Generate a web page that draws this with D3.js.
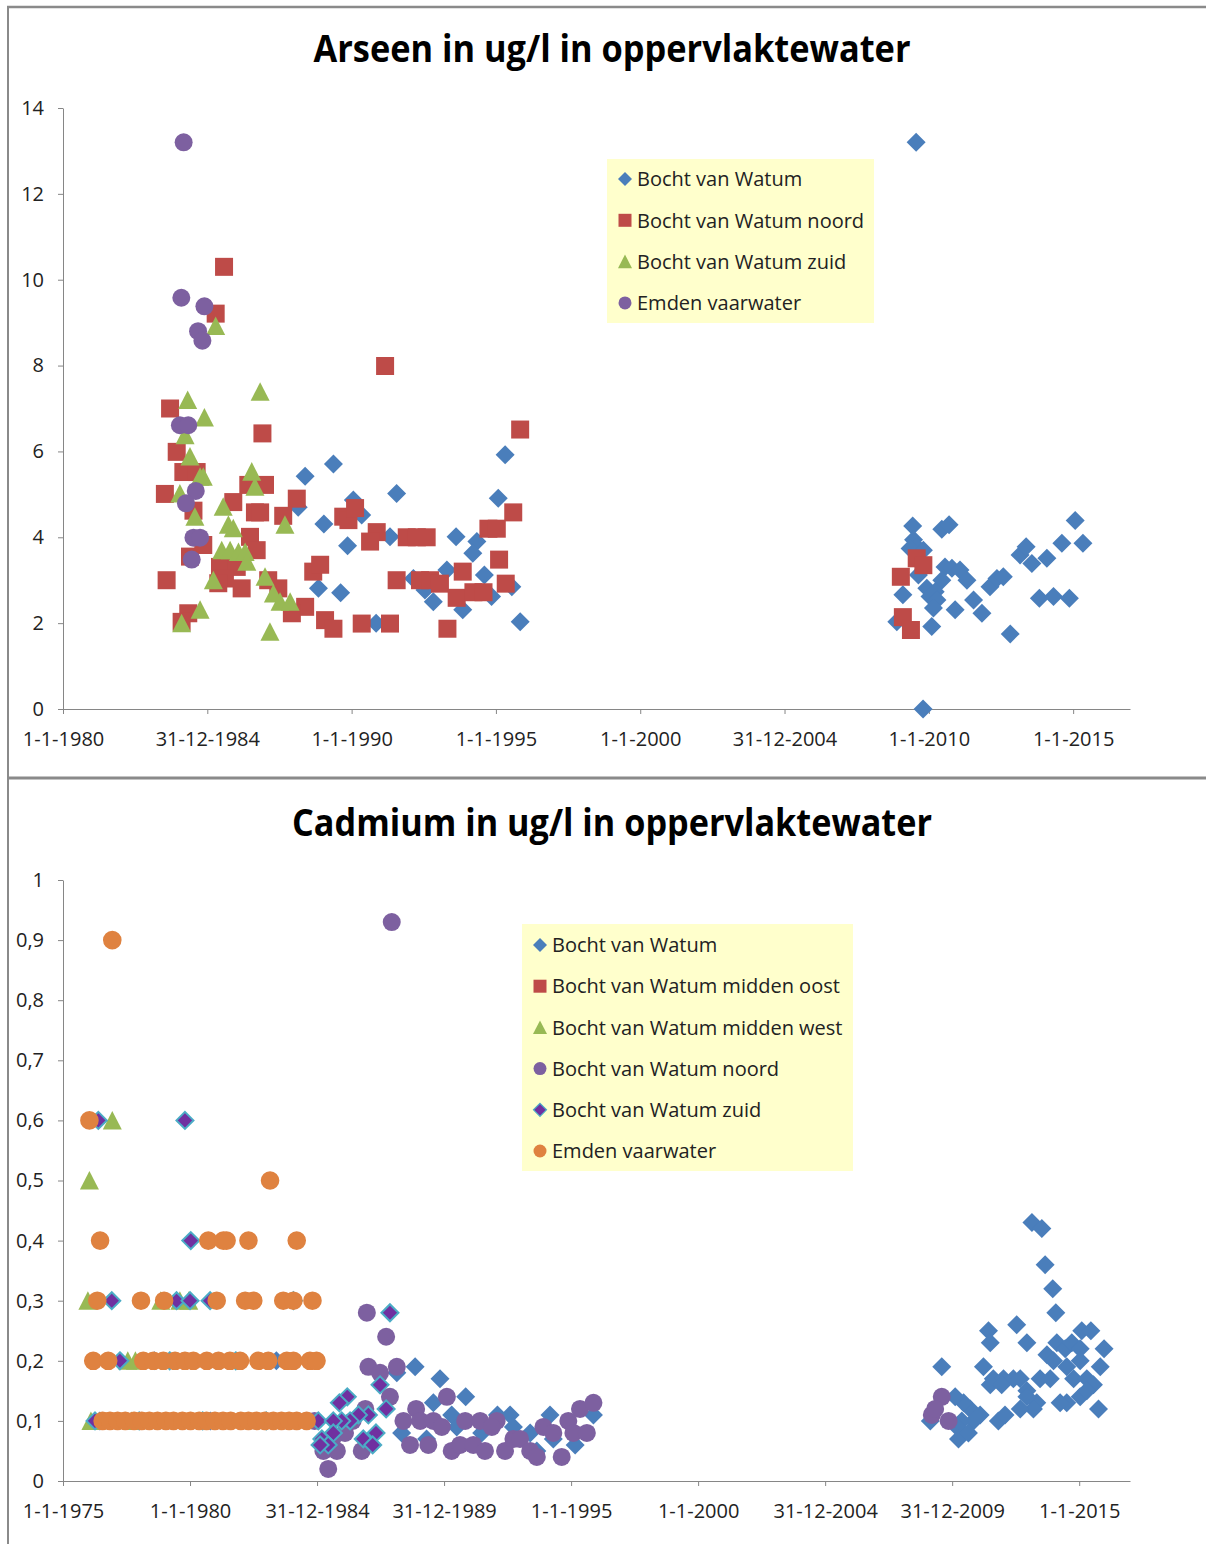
<!DOCTYPE html>
<html>
<head>
<meta charset="utf-8">
<script src="https://cdn.jsdelivr.net/npm/d3@7"></script>
<style>
  body { margin: 0; background: #fff; }
  text { font-family: "Open Sans", "Noto Sans", sans-serif; fill: #222; }
</style>
</head>
<body>
<svg id="chart" width="1206" height="1544"></svg>
<script>
// ---------- Arseen (ug/l): [decimal year, value] ----------
const arsWatum = [
  [1988.39,5.42],[1989.37,5.71],[1991.56,5.02],[1995.32,5.92],[1995.08,4.91],[1990.06,4.87],[1990.35,4.52],
  [1988.15,4.70],[1989.04,4.31],[1991.33,4.01],[1993.62,4.01],[1994.34,3.90],[1994.20,3.63],[1989.86,3.80],
  [1993.30,3.24],[1994.60,3.12],[1988.85,2.81],[1989.62,2.71],[1995.55,2.85],[1994.85,2.62],[1992.83,2.50],
  [1993.85,2.31],[1990.85,2.00],[1995.84,2.03],[1992.14,3.04],[1992.54,2.77],
  [2009.56,13.2],[2009.80,0.00],[2009.44,4.26],[2010.45,4.19],[2010.70,4.29],[2009.47,3.94],[2009.58,3.78],
  [2009.35,3.74],[2009.81,3.70],[2010.56,3.31],[2010.80,3.28],[2011.08,3.24],[2011.32,3.00],[2010.45,3.00],
  [2009.93,2.81],[2010.22,2.73],[2010.04,2.62],[2010.28,2.54],[2009.64,3.12],[2009.10,2.66],[2010.16,2.35],
  [2010.91,2.31],[2010.10,1.92],[2008.89,2.03],[2011.55,2.54],[2011.84,2.23],[2012.12,2.85],[2012.36,3.04],
  [2012.58,3.08],[2013.16,3.59],[2013.37,3.78],[2013.57,3.39],[2014.09,3.51],[2014.61,3.86],[2015.07,4.39],
  [2015.34,3.86],[2013.83,2.58],[2014.32,2.62],[2014.87,2.58],[2012.82,1.75]
];
const arsWatumNoord = [
  [1985.58,10.30],[1985.29,9.21],[1991.16,7.99],[1983.71,7.00],[1986.91,6.42],[1995.84,6.51],[1983.94,5.99],
  [1984.17,5.52],[1984.63,5.52],[1983.53,5.01],[1986.42,5.22],[1987.00,5.22],[1988.10,4.90],[1985.90,4.82],
  [1986.65,4.58],[1986.83,4.58],[1987.63,4.50],[1984.52,4.62],[1989.71,4.48],[1989.89,4.40],[1990.12,4.68],
  [1995.60,4.58],[1994.74,4.20],[1995.03,4.20],[1990.87,4.12],[1990.64,3.90],[1991.91,4.00],[1992.26,4.00],
  [1992.60,4.00],[1986.48,4.01],[1986.71,3.70],[1984.86,3.82],[1984.40,3.55],[1985.44,3.31],[1986.02,3.31],
  [1985.61,3.04],[1985.38,2.93],[1983.59,3.00],[1986.19,2.81],[1987.11,3.00],[1987.46,2.81],[1988.39,2.38],
  [1987.93,2.23],[1984.34,2.23],[1984.11,2.03],[1988.67,3.20],[1988.91,3.36],[1989.08,2.07],[1989.37,1.87],
  [1990.35,1.99],[1991.33,1.99],[1991.56,3.00],[1992.37,3.00],[1992.72,3.00],[1993.06,2.92],[1993.85,3.20],
  [1993.64,2.59],[1994.22,2.72],[1994.57,2.72],[1995.11,3.48],[1995.34,2.92],[1993.32,1.87],
  [2009.58,3.51],[2009.81,3.35],[2009.03,3.08],[2009.10,2.14],[2009.38,1.84]
];
const arsWatumZuid = [
  [1986.83,7.39],[1984.32,7.20],[1984.90,6.79],[1984.23,6.38],[1984.40,5.88],[1984.75,5.41],[1984.86,5.41],
  [1984.05,5.02],[1986.54,5.53],[1986.65,5.18],[1985.55,4.71],[1984.57,4.48],[1987.69,4.29],[1985.73,4.29],
  [1985.90,4.21],[1985.50,3.70],[1985.79,3.70],[1986.08,3.66],[1986.31,3.66],[1986.37,3.43],[1985.21,3.00],
  [1987.00,3.08],[1987.29,2.69],[1987.52,2.50],[1987.87,2.50],[1984.75,2.31],[1984.11,2.00],[1987.17,1.80],
  [1985.29,8.92]
];
const arsEmden = [
  [1984.18,13.20],[1984.10,9.58],[1984.90,9.38],[1984.68,8.80],[1984.83,8.58],[1984.05,6.61],[1984.34,6.61],
  [1984.60,5.08],[1984.26,4.79],[1984.52,3.99],[1984.75,3.99],[1984.46,3.48]
];
const arsXTicks = [1980, 1985, 1990, 1995, 2000, 2005, 2010, 2015];
const arsXLabels = ['1-1-1980','31-12-1984','1-1-1990','1-1-1995','1-1-2000','31-12-2004','1-1-2010','1-1-2015'];
const arsYTicks = [0, 2, 4, 6, 8, 10, 12, 14];

// ---------- Cadmium (ug/l): [decimal year, value] ----------
const cdWatum = [
  [1976.45,0.1],[1978.60,0.2],[1980.80,0.1],[1983.40,0.2],
  [1988.86,0.19],[1989.84,0.17],[1990.85,0.14],[1988.14,0.18],[1989.58,0.13],[1990.30,0.11],[1992.10,0.11],
  [1992.60,0.11],[1994.17,0.11],[1995.88,0.11],[1992.73,0.09],[1993.39,0.08],[1988.33,0.08],[1989.31,0.07],
  [1990.50,0.09],[1991.48,0.08],[1995.16,0.06],[1993.65,0.05],[1994.30,0.07],
  [2013.14,0.43],[2013.53,0.42],[2013.66,0.36],[2013.96,0.32],[2014.08,0.28],[2009.59,0.19],[2011.43,0.25],
  [2011.50,0.23],[2012.54,0.26],[2012.94,0.23],[2015.10,0.25],[2015.46,0.25],[2015.98,0.22],[2013.73,0.21],
  [2014.12,0.23],[2014.45,0.22],[2014.71,0.23],[2015.04,0.22],[2013.99,0.20],[2014.51,0.19],[2015.04,0.20],
  [2015.83,0.19],[2011.23,0.19],[2011.62,0.17],[2012.02,0.17],[2012.41,0.17],[2012.68,0.17],[2011.50,0.16],
  [2011.95,0.16],[2013.46,0.17],[2013.86,0.17],[2012.94,0.15],[2013.33,0.13],[2013.20,0.12],[2014.78,0.17],
  [2015.30,0.17],[2015.56,0.16],[2014.51,0.13],[2015.04,0.14],[2015.30,0.15],[2014.25,0.13],[2015.76,0.12],
  [2010.71,0.12],[2011.10,0.11],[2010.45,0.13],[2010.84,0.10],[2010.38,0.10],[2010.19,0.09],[2010.25,0.07],
  [2010.64,0.08],[2011.82,0.10],[2012.08,0.11],[2010.12,0.14],[2009.14,0.10],[2012.94,0.14],[2012.68,0.12]
];
const cdMiddenOost = [];
const cdMiddenWest = [
  [1976.04,0.50],[1976.94,0.60],[1975.98,0.30],[1978.85,0.30],[1979.60,0.30],[1979.95,0.30],
  [1977.55,0.20],[1977.85,0.20],[1976.10,0.10],[1977.70,0.10]
];
const cdNoord = [
  [1987.94,0.93],[1986.96,0.28],[1987.72,0.24],[1987.02,0.19],[1987.48,0.18],[1988.14,0.19],[1987.87,0.14],
  [1990.11,0.14],[1988.90,0.12],[1988.40,0.10],[1989.06,0.10],[1989.58,0.10],[1989.91,0.09],[1990.83,0.10],
  [1991.42,0.10],[1992.07,0.10],[1991.88,0.09],[1988.66,0.06],[1989.38,0.06],[1990.30,0.05],[1990.63,0.06],
  [1991.15,0.06],[1991.61,0.05],[1992.40,0.05],[1992.73,0.07],[1992.99,0.07],[1993.39,0.05],[1993.65,0.04],
  [1993.91,0.09],[1994.30,0.08],[1994.63,0.04],[1994.89,0.10],[1995.09,0.08],[1995.62,0.08],[1995.35,0.12],
  [1995.88,0.13],[1985.44,0.02],[1985.25,0.05],[1985.78,0.05],[1986.76,0.05],[1986.10,0.08],[1986.40,0.10],
  [1986.90,0.12],[1985.60,0.07],[1984.90,0.10],
  [2009.59,0.14],[2009.20,0.11],[2009.86,0.10],[2009.33,0.12]
];
const cdZuid = [
  [1976.39,0.60],[1979.80,0.60],[1980.03,0.40],[1976.92,0.30],[1979.47,0.30],[1980.00,0.30],[1980.79,0.30],
  [1984.07,0.30],[1977.24,0.20],[1976.26,0.10],[1985.05,0.10],[1979.20,0.20],[1981.80,0.20],[1978.00,0.10],
  [1980.50,0.10],[1983.00,0.10],
  [1987.87,0.28],[1987.48,0.16],[1987.72,0.12],[1986.19,0.14],[1985.88,0.13],[1987.02,0.11],[1986.63,0.11],
  [1986.30,0.10],[1985.97,0.10],[1985.64,0.10],[1987.32,0.08],[1986.82,0.07],[1987.19,0.06],[1985.64,0.08],
  [1985.19,0.07],[1985.44,0.06],[1985.12,0.06]
];
const cdEmden = [
  [1976.94,0.9],[1976.04,0.6],[1983.15,0.5],
  [1976.46,0.4],[1980.72,0.4],[1981.31,0.4],[1981.44,0.4],[1982.30,0.4],[1984.20,0.4],
  [1976.35,0.3],[1978.07,0.3],[1978.98,0.3],[1981.05,0.3],[1982.17,0.3],[1982.49,0.3],[1983.67,0.3],
  [1984.07,0.3],[1984.82,0.3],
  [1976.19,0.2],[1976.78,0.2],[1978.16,0.2],[1978.56,0.2],[1978.95,0.2],[1979.41,0.2],[1979.80,0.2],
  [1980.13,0.2],[1980.66,0.2],[1981.12,0.2],[1981.57,0.2],[1981.97,0.2],[1982.69,0.2],[1983.08,0.2],
  [1983.81,0.2],[1984.07,0.2],[1984.72,0.2],[1984.98,0.2],
  [1976.56,0.1],[1976.85,0.1],[1977.15,0.1],[1977.45,0.1],[1977.80,0.1],[1978.10,0.1],[1978.40,0.1],
  [1978.72,0.1],[1979.05,0.1],[1979.35,0.1],[1979.70,0.1],[1980.02,0.1],[1980.36,0.1],[1980.65,0.1],
  [1980.98,0.1],[1981.30,0.1],[1981.60,0.1],[1982.00,0.1],[1982.30,0.1],[1982.62,0.1],[1982.95,0.1],
  [1983.28,0.1],[1983.60,0.1],[1983.90,0.1],[1984.20,0.1],[1984.59,0.1]
];
const cdXTicks = [1975, 1980, 1985, 1990, 1995, 2000, 2005, 2010, 2015];
const cdXLabels = ['1-1-1975','1-1-1980','31-12-1984','31-12-1989','1-1-1995','1-1-2000','31-12-2004','31-12-2009','1-1-2015'];
const cdYTicks = [0, 0.1, 0.2, 0.3, 0.4, 0.5, 0.6, 0.7, 0.8, 0.9, 1];

// ---------- drawing ----------
const svg = d3.select('#chart');
const axisColor = '#868686';

function marker(type, s) {
  if (type === 'diamond') return `M0,${-s}L${s},0L0,${s}L${-s},0Z`;
  if (type === 'square') return `M${-s},${-s}h${2 * s}v${2 * s}h${-2 * s}Z`;
  if (type === 'triangle') return `M0,${-s}L${s},${s * 0.95}L${-s},${s * 0.95}Z`;
  return `M${-s},0a${s},${s} 0 1,0 ${2 * s},0a${s},${s} 0 1,0 ${-2 * s},0Z`;
}

function drawChart(o) {
  const g = svg.append('g');
  const x = d3.scaleLinear().domain(o.xDomain).range([63, 1130]);
  const y = d3.scaleLinear().domain(o.yDomain).range([o.yBottom, o.yTop]);

  g.append('text')
    .attr('x', 612).attr('y', o.titleY)
    .attr('text-anchor', 'middle')
    .attr('font-size', 37).attr('font-weight', 'bold')
    .attr('textLength', o.titleW).attr('lengthAdjust', 'spacingAndGlyphs')
    .style('fill', '#000')
    .text(o.title);

  const yAxis = g.append('g').attr('transform', 'translate(63,0)')
    .call(d3.axisLeft(y).tickValues(o.yTicks).tickSize(5).tickSizeOuter(0).tickPadding(14).tickFormat(o.yFormat));
  const xAxis = g.append('g').attr('transform', `translate(0,${o.yBottom})`)
    .call(d3.axisBottom(x).tickValues(o.xTicks).tickSize(5).tickSizeOuter(0).tickPadding(18)
      .tickFormat((d, i) => o.xLabels[i]));
  [yAxis, xAxis].forEach(a => {
    a.attr('font-family', null).attr('font-size', null);
    a.select('.domain').attr('stroke', axisColor);
    a.selectAll('.tick line').attr('stroke', axisColor);
    a.selectAll('.tick text').attr('font-size', 20).style('fill', '#222');
  });

  o.series.forEach(s => {
    g.append('g').selectAll('path')
      .data(s.data)
      .join('path')
      .attr('d', marker(s.type, s.size))
      .attr('transform', d => `translate(${x(d[0])},${y(d[1])})`)
      .attr('fill', s.fill)
      .attr('stroke', s.stroke || 'none')
      .attr('stroke-width', s.stroke ? 2 : 0);
  });

  const L = o.legend;
  const lg = g.append('g');
  lg.append('rect').attr('x', L.x).attr('y', L.y).attr('width', L.w).attr('height', L.h).attr('fill', '#FFFFCC');
  o.series.forEach((s, i) => {
    const cy = L.firstRow + i * L.step;
    lg.append('path')
      .attr('d', marker(s.type, s.legendSize))
      .attr('transform', `translate(${L.markerX},${cy})`)
      .attr('fill', s.fill)
      .attr('stroke', s.stroke || 'none')
      .attr('stroke-width', s.stroke ? 1.2 : 0);
    lg.append('text')
      .attr('x', L.textX).attr('y', cy).attr('dy', '0.36em')
      .attr('font-size', 20)
      .text(s.name);
  });
}

// frame lines
svg.append('line').attr('x1', 7).attr('x2', 1206).attr('y1', 7).attr('y2', 7).attr('stroke', '#8a8a8a').attr('stroke-width', 2.5);
svg.append('line').attr('x1', 8).attr('x2', 8).attr('y1', 6).attr('y2', 1544).attr('stroke', '#8a8a8a').attr('stroke-width', 2);
svg.append('line').attr('x1', 7).attr('x2', 1206).attr('y1', 778).attr('y2', 778).attr('stroke', '#8a8a8a').attr('stroke-width', 3);

const blue = '#4A7EBB', red = '#BE4B48', green = '#98B954', purple = '#7D60A0', orange = '#DF8240';

drawChart({
  title: 'Arseen in ug/l in oppervlaktewater', titleY: 62, titleW: 597,
  xDomain: [1980, 2016.97], yDomain: [0, 14], yBottom: 709, yTop: 108,
  xTicks: arsXTicks, xLabels: arsXLabels, yTicks: arsYTicks, yFormat: d => d,
  series: [
    { name: 'Bocht van Watum', data: arsWatum, type: 'diamond', size: 9.5, legendSize: 7, fill: blue },
    { name: 'Bocht van Watum noord', data: arsWatumNoord, type: 'square', size: 9, legendSize: 6.5, fill: red },
    { name: 'Bocht van Watum zuid', data: arsWatumZuid, type: 'triangle', size: 9.5, legendSize: 7, fill: green },
    { name: 'Emden vaarwater', data: arsEmden, type: 'circle', size: 9, legendSize: 6.5, fill: purple }
  ],
  legend: { x: 607, y: 159, w: 267, h: 164, firstRow: 179, step: 41.3, markerX: 625, textX: 637 }
});

drawChart({
  title: 'Cadmium in ug/l in oppervlaktewater', titleY: 836, titleW: 640,
  xDomain: [1975, 2017.0], yDomain: [0, 1], yBottom: 1481, yTop: 880,
  xTicks: cdXTicks, xLabels: cdXLabels, yTicks: cdYTicks,
  yFormat: d => String(+d.toFixed(1)).replace('.', ','),
  series: [
    { name: 'Bocht van Watum', data: cdWatum, type: 'diamond', size: 9.5, legendSize: 7, fill: blue },
    { name: 'Bocht van Watum midden oost', data: cdMiddenOost, type: 'square', size: 9, legendSize: 6.5, fill: red },
    { name: 'Bocht van Watum midden west', data: cdMiddenWest, type: 'triangle', size: 9.5, legendSize: 7, fill: green },
    { name: 'Bocht van Watum noord', data: cdNoord, type: 'circle', size: 9, legendSize: 6.5, fill: purple },
    { name: 'Bocht van Watum zuid', data: cdZuid, type: 'diamond', size: 8.5, legendSize: 6.5, fill: '#7030A0', stroke: '#4BACC6' },
    { name: 'Emden vaarwater', data: cdEmden, type: 'circle', size: 9.3, legendSize: 6.5, fill: orange }
  ],
  legend: { x: 522, y: 924, w: 331, h: 247, firstRow: 945, step: 41.2, markerX: 540, textX: 552 }
});
</script>
</body>
</html>
